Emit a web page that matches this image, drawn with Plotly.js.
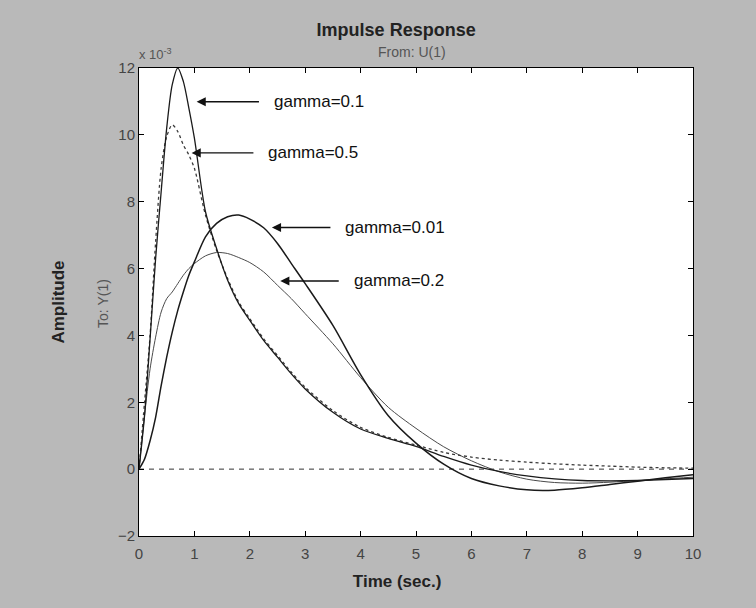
<!DOCTYPE html>
<html>
<head>
<meta charset="utf-8">
<script src="https://cdn.plot.ly/plotly-3.0.1.min.js"></script>
<style>
  html, body { margin: 0; padding: 0; background: #b9b9b9; }
  #chart { width: 756px; height: 608px; }
</style>
</head>
<body>
<div id="chart"></div>
<script>
// Impulse response of the plant for four damping values (amplitude in units of 1e-3)
const time = [0, 0.1, 0.2, 0.3, 0.4, 0.5, 0.6, 0.7, 0.8, 0.9, 1.0, 1.2, 1.4, 1.6, 1.8, 2.0,
              2.25, 2.5, 2.75, 3.0, 3.5, 4.0, 4.5, 5.0, 5.5, 6.0, 6.5, 7.0, 7.5, 8.0, 8.5, 9.0, 9.5, 10];

const gamma0_1 = [0, 1.6, 3.9, 6.3, 8.3, 10.2, 11.5, 12.0, 11.6, 10.8, 9.9, 7.7, 6.6, 5.65, 4.95, 4.45,
                  3.85, 3.35, 2.85, 2.4, 1.7, 1.2, 0.92, 0.68, 0.38, 0.12, -0.07, -0.2, -0.29, -0.34, -0.35, -0.34, -0.31, -0.28];

const gamma0_5 = [0, 2.0, 4.0, 6.8, 9.0, 9.95, 10.3, 10.1, 9.7, 9.4, 9.0, 7.6, 6.55, 5.7, 5.0, 4.5,
                  3.9, 3.4, 2.9, 2.45, 1.75, 1.25, 0.95, 0.72, 0.5, 0.36, 0.27, 0.21, 0.16, 0.12, 0.09, 0.06, 0.04, 0.03];

const gamma0_01 = [0, 0.3, 0.85, 1.55, 2.5, 3.35, 4.1, 4.75, 5.3, 5.8, 6.2, 6.95, 7.35, 7.55, 7.6, 7.48,
                   7.22, 6.75, 6.15, 5.55, 4.3, 2.83, 1.6, 0.78, 0.15, -0.28, -0.5, -0.62, -0.63, -0.56, -0.46, -0.36, -0.26, -0.17];

const gamma0_2 = [0, 1.6, 3.0, 3.95, 4.7, 5.1, 5.3, 5.55, 5.8, 6.0, 6.15, 6.38, 6.48, 6.45, 6.33, 6.18,
                  5.9, 5.5, 5.1, 4.65, 3.75, 2.74, 1.85, 1.22, 0.67, 0.25, -0.08, -0.3, -0.4, -0.42, -0.39, -0.34, -0.29, -0.24];

const xTicks = [0, 1, 2, 3, 4, 5, 6, 7, 8, 9, 10];
const yTicks = [-2, 0, 2, 4, 6, 8, 10, 12];

const labelFont = "Liberation Sans, Arial, sans-serif";

function curve(y, name, color, width, dash) {
  return {
    x: time, y: y, name: name, type: 'scatter', mode: 'lines',
    line: { color: color, width: width, dash: dash, shape: 'spline', smoothing: 0.8 },
    hoverinfo: 'x+y+name'
  };
}

const traces = [
  curve(gamma0_2, 'gamma=0.2', '#4a4a4a', 1.0, 'solid'),
  curve(gamma0_5, 'gamma=0.5', '#3a3a3a', 1.3, 'dot'),
  curve(gamma0_01, 'gamma=0.01', '#1a1a1a', 1.5, 'solid'),
  curve(gamma0_1, 'gamma=0.1', '#1a1a1a', 1.3, 'solid')
];

// Curve labels: [text, arrow tip time, arrow tip amplitude, time where the label starts]
const callouts = [
  ['gamma=0.1', 1.04, 10.99, 2.40],
  ['gamma=0.5', 0.95, 9.46, 2.30],
  ['gamma=0.01', 2.40, 7.23, 3.69],
  ['gamma=0.2', 2.55, 5.63, 3.84]
];

// each label sits to the right of its arrow, with a small gap before the arrow's tail
const annotations = callouts.map(c => ({
  x: c[1], y: c[2], xref: 'x', yref: 'y',
  ax: c[3], ay: c[2], axref: 'x', ayref: 'y',
  xanchor: 'left', yanchor: 'middle',
  text: c[0], showarrow: true,
  arrowhead: 2, arrowsize: 1.3, arrowwidth: 1.4, arrowcolor: '#111', startstandoff: 13,
  font: { family: labelFont, size: 17, color: '#111' }
}));

annotations.push(
  { x: 0.493, y: 1.034, xref: 'paper', yref: 'paper', xanchor: 'center', yanchor: 'middle',
    text: 'From: U(1)', showarrow: false, font: { family: labelFont, size: 14, color: '#555' } },
  { x: -0.004, y: 1.03, xref: 'paper', yref: 'paper', xanchor: 'left', yanchor: 'middle',
    text: 'x 10<sup>-3</sup>', showarrow: false, font: { family: labelFont, size: 13, color: '#555' } },
  { x: -0.065, y: 0.498, xref: 'paper', yref: 'paper', xanchor: 'center', yanchor: 'middle',
    text: 'To: Y(1)', textangle: -90, showarrow: false,
    font: { family: labelFont, size: 14, color: '#555' } }
);

const axisCommon = {
  showline: true, linecolor: '#000', linewidth: 1, mirror: 'ticks',
  ticks: 'inside', ticklen: 5, tickcolor: '#000', tickwidth: 1,
  showgrid: false, zeroline: false,
  tickfont: { family: labelFont, size: 15, color: '#444' }
};

const layout = {
  width: 756, height: 608,
  margin: { l: 139, r: 63, t: 68, b: 72 },
  paper_bgcolor: '#b9b9b9', plot_bgcolor: '#ffffff',
  showlegend: false,
  title: {
    text: '<b>Impulse Response</b>', x: 0.524, xanchor: 'center', y: 0.951, yanchor: 'middle',
    font: { family: labelFont, size: 18, color: '#222' }
  },
  xaxis: Object.assign({}, axisCommon, {
    range: [0, 10], tickvals: xTicks, ticklabelstandoff: 4,
    title: { text: '<b>Time (sec.)</b>' + '&nbsp;'.repeat(8), standoff: 14,
             font: { family: labelFont, size: 17, color: '#222' } }
  }),
  yaxis: Object.assign({}, axisCommon, {
    range: [-2, 12], tickvals: yTicks,
    title: { text: '<b>Amplitude</b>', standoff: 48,
             font: { family: labelFont, size: 17, color: '#222' } }
  }),
  shapes: [{
    type: 'line', xref: 'x', yref: 'y', x0: 0, x1: 10, y0: 0, y1: 0,
    line: { color: '#333', width: 1, dash: '5px,5px' }, layer: 'below'
  }],
  annotations: annotations
};

Plotly.newPlot('chart', traces, layout, { displayModeBar: false, staticPlot: true });
</script>
</body>
</html>
